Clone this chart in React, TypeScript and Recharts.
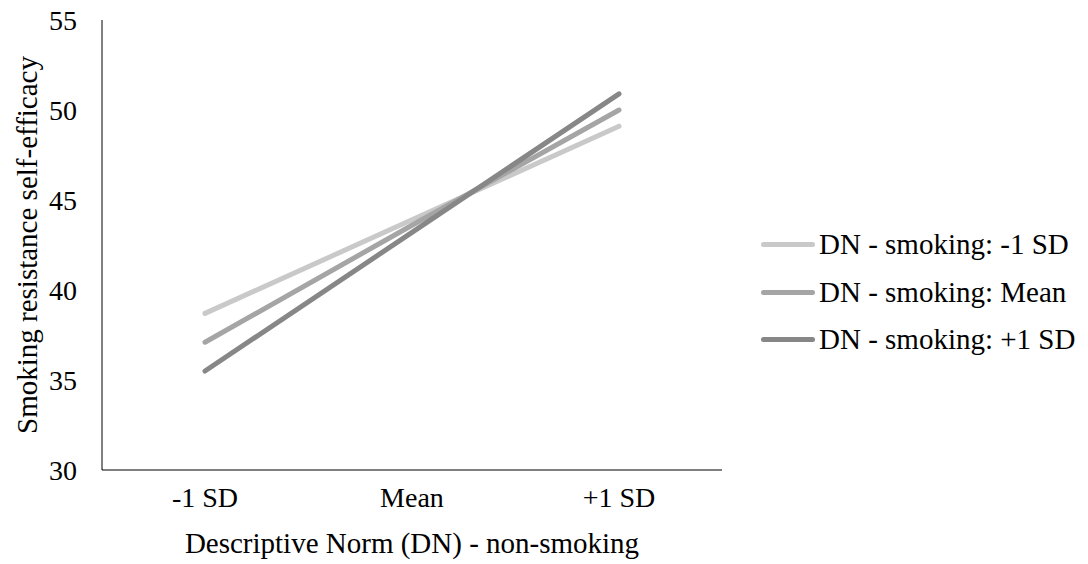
import React from 'react';
import { LineChart, Line, XAxis, YAxis, Label } from 'recharts';

// x categories (DN - non-smoking)
const categories = ['-1 SD', 'Mean', '+1 SD'];

// simple slopes, one per level of DN - smoking
const dnSmokingMinus1 = [38.7, 43.9, 49.1];
const dnSmokingMean = [37.1, 43.6, 50.0];
const dnSmokingPlus1 = [35.5, 43.2, 50.9];

const yTicks = [30, 35, 40, 45, 50, 55];

const seriesNames = [
  'DN - smoking: -1 SD',
  'DN - smoking: Mean',
  'DN - smoking: +1 SD',
];
const seriesColors = ['#c9c9c9', '#a5a5a5', '#878787'];

const FONT = '"Liberation Serif", "Times New Roman", serif';

const data = categories.map((cat, i) => ({
  cat,
  s0: dnSmokingMinus1[i],
  s1: dnSmokingMean[i],
  s2: dnSmokingPlus1[i],
}));

const YTitle = (props: any) => {
  const vb = props.viewBox || {};
  const cx = (vb.x || 0) + 37;
  const cy = (vb.y || 0) + (vb.height || 0) / 2;
  return (
    <text
      x={cx}
      y={cy}
      transform={`rotate(-90 ${cx} ${cy})`}
      textAnchor="middle"
      fill="#000"
      style={{ fontFamily: FONT, fontSize: 29 }}
    >
      Smoking resistance self-efficacy
    </text>
  );
};

// legend drawn as plain html next to the plot (Excel style)
const LegendBox = () => (
  <div
    style={{
      position: 'absolute',
      left: 761,
      top: 221,
      fontFamily: FONT,
      fontSize: 29,
      color: '#000',
    }}
  >
    {seriesNames.map((name, i) => (
      <div
        key={name}
        style={{ display: 'flex', alignItems: 'center', height: 47.5, whiteSpace: 'nowrap' }}
      >
        <span
          style={{
            display: 'inline-block',
            width: 54,
            height: 5,
            borderRadius: 3,
            background: seriesColors[i],
            marginRight: 4,
          }}
        />
        <span>{name}</span>
      </div>
    ))}
  </div>
);

export default function App() {
  const keys = ['s0', 's1', 's2'];
  return (
    <div style={{ position: 'absolute', left: 0, top: 0, width: 1088, height: 564, background: '#fff' }}>
      <LineChart
        width={1088}
        height={564}
        data={data}
        margin={{ top: 20, right: 366, left: 0, bottom: 0 }}
      >
        <XAxis
          dataKey="cat"
          height={94}
          padding={{ left: 103, right: 103 }}
          axisLine={{ stroke: '#000', strokeWidth: 1 }}
          tickLine={false}
          tickSize={0}
          tickMargin={17}
          tick={{ fill: '#000', fontSize: 28, fontFamily: FONT }}
        >
          <Label
            value="Descriptive Norm (DN) - non-smoking"
            position="insideBottom"
            offset={11}
            style={{ fill: '#000', fontSize: 29, fontFamily: FONT }}
          />
        </XAxis>
        <YAxis
          width={102}
          domain={[30, 55]}
          ticks={yTicks}
          interval={0}
          axisLine={{ stroke: '#000', strokeWidth: 1 }}
          tickLine={false}
          tickSize={0}
          tickMargin={25}
          tick={{ fill: '#000', fontSize: 28, fontFamily: FONT }}
        >
          <Label content={YTitle} />
        </YAxis>
        {keys.map((k, i) => (
          <Line
            key={k}
            type="linear"
            dataKey={k}
            name={seriesNames[i]}
            stroke={seriesColors[i]}
            strokeWidth={5}
            strokeLinecap="round"
            dot={false}
            activeDot={false}
            isAnimationActive={false}
          />
        ))}
      </LineChart>
      <LegendBox />
    </div>
  );
}
